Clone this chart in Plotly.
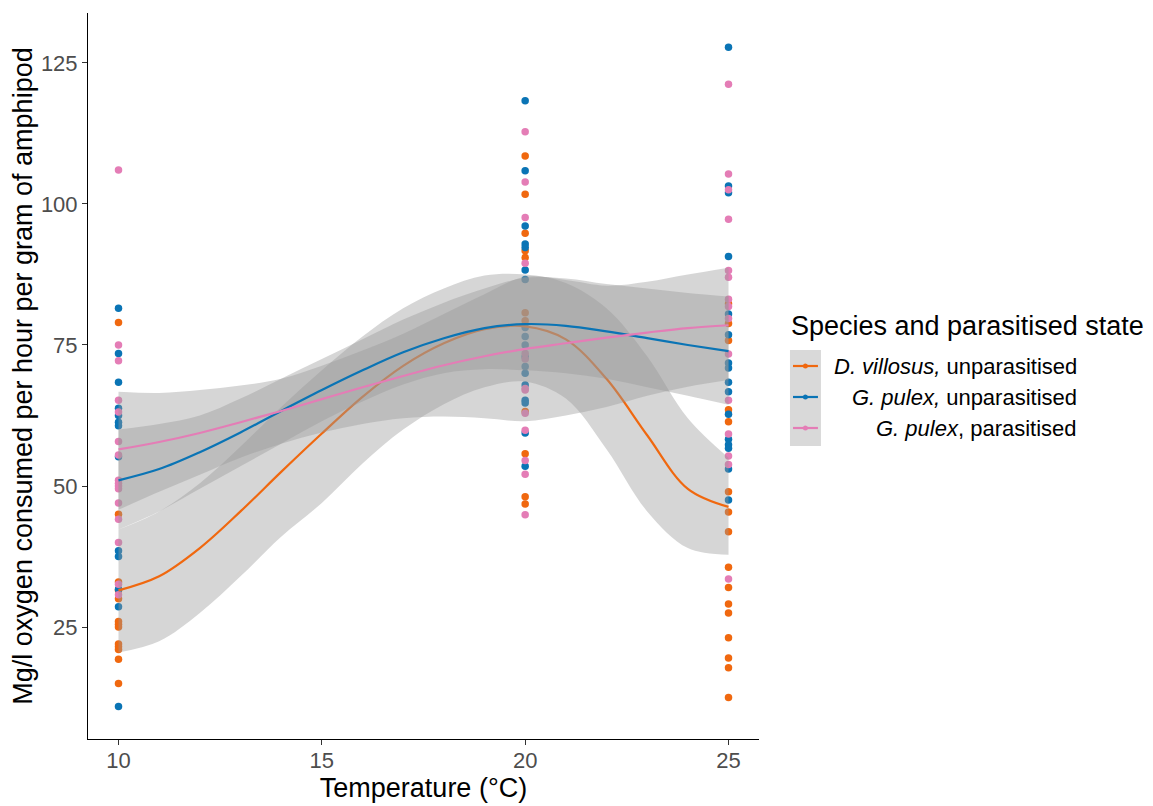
import plotly.graph_objects as go

# ---------------- data ----------------
groups = ["D. villosus, unparasitised", "G. pulex, unparasitised", "G. pulex, parasitised"]
colors = ["#F0680F", "#0A74B5", "#E47DB6"]

temps = [10, 20, 25]

dv_10 = [79, 45, 33, 31.5, 30, 26, 25.5, 25, 22, 21.5, 21, 19.3, 15]
dv_20 = [108.5, 101.7, 94.8, 91.7, 90.5, 80.7, 79.3, 63.2, 55.7, 48.1, 46.8]
dv_25 = [82.3, 78.8, 75.8, 63.5, 61.4, 49, 45.4, 41.9, 35.6, 32, 29.1, 27.5, 23.1, 19.5, 17.8, 12.5]

gu_10 = [81.5, 73.5, 68.4, 63.8, 62.5, 61.3, 60.7, 55.2, 38.5, 37.5, 31.7, 28.6, 10.9]
gu_20 = [118.3, 105.9, 96.1, 92.9, 92.3, 88.3, 86.6, 78.1, 76.5, 75, 72.9, 71.2, 70, 67.9, 65.2, 64.7, 59.4, 53.5]
gu_25 = [127.8, 103.2, 102, 90.7, 80.5, 76.8, 71.8, 70.9, 68.4, 66.7, 62.7, 58.3, 57.3, 56.7, 53, 47.5]

gp_10 = [106, 75, 72.2, 65.2, 63.1, 57.9, 55.5, 51, 50.5, 50, 49.5, 47, 44.1, 40, 32.6, 30.7]
gp_20 = [112.8, 103.9, 97.6, 89.5, 73.5, 72.5, 67.3, 67, 62.9, 59.9, 54.5, 52.1, 44.9]
gp_25 = [121.2, 105.3, 102.5, 97.3, 88.2, 87, 83.1, 81.8, 79.7, 73.4, 65.2, 59.2, 55.3, 53.8, 33.5]

# smoother curves (at each degree)
grid = [10, 11, 12, 13, 14, 15, 16, 17, 18, 19, 20, 21, 22, 23, 24, 25]
dv_fit = [31.5, 34, 39, 45.5, 52.5, 59.3, 65.8, 71.3, 75.3, 77.8, 78.3, 76, 69, 59, 49.5, 46.3]
dv_lo = [20.5, 22.5, 27.5, 34, 41, 47, 54, 60, 64.5, 67.5, 68.5, 65.5, 56.5, 45.5, 39, 37.8]
dv_hi = [42.3, 45.5, 50.5, 57, 64, 70.5, 76.5, 81.5, 85, 87.3, 87.5, 86, 81.5, 73, 62, 55]

gu_fit = [51, 53, 56, 59.5, 63.3, 67, 70.5, 73.7, 76.2, 78, 78.7, 78.4, 77.4, 76.2, 75, 73.9]
gu_lo = [42.3, 45.5, 49.5, 53.5, 57.5, 61.5, 65, 68, 70, 70.7, 70.5, 70, 69, 67.5, 66, 64.4]
gu_hi = [60, 61, 62.5, 65.5, 69, 72.5, 76, 79.5, 82.5, 85, 86.9, 86.8, 85.8, 85, 84.2, 83.6]

gp_fit = [56.5, 57.8, 59.4, 61.3, 63.3, 65.4, 67.5, 69.5, 71.4, 73, 74.3, 75.3, 76.3, 77.2, 78, 78.5]
gp_lo = [45.8, 49, 52, 55, 57.5, 59.5, 61, 62, 62.3, 62, 61.5, 62.5, 64, 66, 67.6, 68.8]
gp_hi = [66.7, 66.5, 67, 67.8, 69, 71.3, 74, 77, 80.5, 84, 87.1, 86.5, 85.5, 86.2, 87.5, 88.7]

x_ticks = [10, 15, 20, 25]
y_ticks = [25, 50, 75, 100, 125]

points = [[dv_10, dv_20, dv_25], [gu_10, gu_20, gu_25], [gp_10, gp_20, gp_25]]
fits = [(dv_fit, dv_lo, dv_hi), (gu_fit, gu_lo, gu_hi), (gp_fit, gp_lo, gp_hi)]

FONT = "Liberation Sans, Arial, sans-serif"
fig = go.Figure()

# points
for g, col, pts in zip(groups, colors, points):
    xs, ys = [], []
    for t, vals in zip(temps, pts):
        xs += [t] * len(vals)
        ys += vals
    fig.add_trace(go.Scatter(x=xs, y=ys, mode="markers", name=g, showlegend=False,
                             marker=dict(color=col, size=7.5, line=dict(width=0))))


def add_ribbon(lo, hi):
    fig.add_trace(go.Scatter(x=grid, y=lo, mode="lines", line=dict(width=0, shape="spline"),
                             hoverinfo="skip", showlegend=False))
    fig.add_trace(go.Scatter(x=grid, y=hi, mode="lines", line=dict(width=0, shape="spline"),
                             fill="tonexty", fillcolor="rgba(153,153,153,0.4)",
                             hoverinfo="skip", showlegend=False))


def add_line(i):
    fig.add_trace(go.Scatter(x=grid, y=fits[i][0], mode="lines", name=groups[i], showlegend=False,
                             line=dict(color=colors[i], width=2.2, shape="spline")))


# orange ribbon + line, then the other ribbons, then the other lines
add_ribbon(fits[0][1], fits[0][2])
add_line(0)
add_ribbon(fits[1][1], fits[1][2])
add_ribbon(fits[2][1], fits[2][2])
add_line(1)
add_line(2)

# plot area in page pixels
PL, PR, PT, PB = 87.5, 759.0, 13.0, 739.0


def px_x(p):
    return (p - PL) / (PR - PL)


def px_y(p):
    return (PB - p) / (PB - PT)


# custom legend (right aligned labels as in the original)
fig.add_annotation(text="Species and parasitised state", xref="paper", yref="paper",
                   x=px_x(789), y=px_y(326), xanchor="left", yanchor="middle",
                   showarrow=False, font=dict(family=FONT, size=27, color="black"))
fig.add_shape(type="rect", xref="paper", yref="paper", x0=px_x(790), x1=px_x(821),
              y0=px_y(446), y1=px_y(350), fillcolor="#D9D9D9", line=dict(width=0))
labels = ["<i>D. villosus,</i> unparasitised", "<i>G. pulex,</i> unparasitised",
          "<i>G. pulex</i>, parasitised"]
key_y = [366, 397, 428]
for lab, col, ky in zip(labels, colors, key_y):
    fig.add_shape(type="line", xref="paper", yref="paper", x0=px_x(793), x1=px_x(818),
                  y0=px_y(ky), y1=px_y(ky), line=dict(color=col, width=2.2))
    fig.add_shape(type="circle", xref="paper", yref="paper", x0=px_x(803), x1=px_x(808),
                  y0=px_y(ky + 2.5), y1=px_y(ky - 2.5), fillcolor=col, line=dict(width=0))
    fig.add_annotation(text=lab, xref="paper", yref="paper", x=px_x(1079), y=px_y(ky),
                       xanchor="right", yanchor="middle", showarrow=False,
                       font=dict(family=FONT, size=22, color="black"))

# the page adds an 8px body margin, so the figure is 8px smaller and margins are offset
W, H = 1145, 798
fig.update_layout(
    width=W, height=H,
    margin=dict(l=PL - 8, r=W - (PR - 8), t=PT - 8, b=H - (PB - 8), autoexpand=False),
    plot_bgcolor="white", paper_bgcolor="white",
    font=dict(family=FONT),
    showlegend=False,
)
fig.update_xaxes(range=[9.25, 25.75], tickvals=x_ticks, ticks="outside", ticklen=5,
                 tickcolor="#333333", tickwidth=1, showline=True, linecolor="black",
                 linewidth=1, showgrid=False, zeroline=False, automargin=False,
                 ticklabelstandoff=-3,
                 tickfont=dict(family=FONT, size=22, color="#4D4D4D"),
                 title=dict(text="Temperature (°C)", standoff=2,
                            font=dict(family=FONT, size=27, color="black")))
fig.update_yaxes(range=[5.15, 133.85], tickvals=y_ticks, ticks="outside", ticklen=5,
                 tickcolor="#333333", tickwidth=1, showline=True, linecolor="black",
                 linewidth=1, showgrid=False, zeroline=False, automargin=False,
                 ticklabelstandoff=0,
                 tickfont=dict(family=FONT, size=22, color="#4D4D4D"),
                 title=dict(text="Mg/l oxygen consumed per hour per gram of amphipod", standoff=0,
                            font=dict(family=FONT, size=27, color="black")))

fig.write_html("out.html")
